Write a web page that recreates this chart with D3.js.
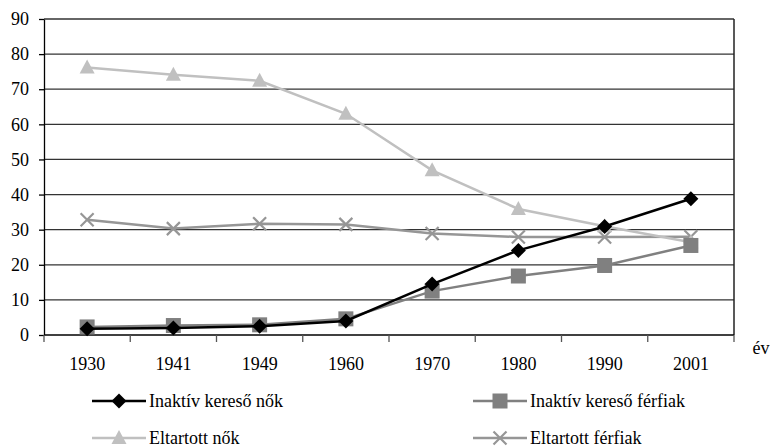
<!DOCTYPE html>
<html lang="hu">
<head>
<meta charset="utf-8">
<title>Inaktív keresők és eltartottak</title>
<script src="https://cdnjs.cloudflare.com/ajax/libs/d3/7.8.5/d3.min.js"></script>
<style>
  body { margin: 0; background: #fff; }
</style>
</head>
<body>
<script>
// data
var years = ["1930", "1941", "1949", "1960", "1970", "1980", "1990", "2001"];
var inaktivNok = [1.8, 2.0, 2.5, 4.0, 14.5, 24.1, 30.9, 38.8];
var inaktivFerfiak = [2.3, 2.7, 2.9, 4.6, 12.5, 16.8, 19.8, 25.5];
var eltartottNok = [76.2, 74.1, 72.4, 63.0, 46.9, 35.9, 31.0, 26.4];
var eltartottFerfiak = [32.8, 30.3, 31.7, 31.5, 28.9, 27.9, 27.9, 28.0];
var yTicks = [0, 10, 20, 30, 40, 50, 60, 70, 80, 90];

var series = [
  {name: "Inaktív kereső nők", values: inaktivNok, color: "#000000", marker: "diamond"},
  {name: "Inaktív kereső férfiak", values: inaktivFerfiak, color: "#808080", marker: "square"},
  {name: "Eltartott nők", values: eltartottNok, color: "#c0c0c0", marker: "triangle"},
  {name: "Eltartott férfiak", values: eltartottFerfiak, color: "#969696", marker: "cross"}
];

var W = 781, H = 448;
var pLeft = 44, pRight = 734, pTop = 19, pBottom = 335;
var FONT = "Liberation Serif";

var svg = d3.select("body").append("svg")
    .attr("width", W)
    .attr("height", H);

var x = d3.scaleBand().domain(years).range([pLeft, pRight]);
var y = d3.scaleLinear().domain([0, 90]).range([pBottom, pTop]);

// gridlines
svg.append("g")
  .selectAll("line")
  .data(yTicks.slice(1))
  .enter().append("line")
    .attr("x1", pLeft).attr("x2", pRight)
    .attr("y1", function(d) { return y(d); })
    .attr("y2", function(d) { return y(d); })
    .attr("stroke", "#333")
    .attr("stroke-width", 1.3);

// right border
svg.append("line")
    .attr("x1", pRight).attr("x2", pRight)
    .attr("y1", pTop).attr("y2", pBottom)
    .attr("stroke", "#222")
    .attr("stroke-width", 1.5);

// y axis
var yAxis = svg.append("g")
    .attr("transform", "translate(" + pLeft + ",0)")
    .call(d3.axisLeft(y).tickValues(yTicks).tickSize(5).tickPadding(10).tickSizeOuter(0));
yAxis.attr("font-family", FONT).attr("font-size", 18);
yAxis.select(".domain").attr("stroke", "#000").attr("stroke-width", 1.3);
yAxis.selectAll(".tick line").attr("stroke", "#000").attr("stroke-width", 1.3);
yAxis.selectAll("text").attr("fill", "#000");

// x axis: ticks between categories
var xAxis = svg.append("g")
    .attr("transform", "translate(0," + pBottom + ")")
    .call(d3.axisBottom(x).tickSize(0).tickPadding(22));
xAxis.attr("font-family", FONT).attr("font-size", 18);
xAxis.select(".domain").remove();
xAxis.selectAll("text").attr("fill", "#000");

svg.append("line")
    .attr("x1", pLeft).attr("x2", pRight)
    .attr("y1", pBottom).attr("y2", pBottom)
    .attr("stroke", "#000").attr("stroke-width", 1.5);

svg.append("g")
  .selectAll("line")
  .data(years.concat(["end"]))
  .enter().append("line")
    .attr("x1", function(d, i) { return pLeft + i * x.bandwidth(); })
    .attr("x2", function(d, i) { return pLeft + i * x.bandwidth(); })
    .attr("y1", pBottom).attr("y2", pBottom + 7)
    .attr("stroke", "#555").attr("stroke-width", 1.3);

svg.append("text")
    .attr("x", 761).attr("y", 354)
    .attr("text-anchor", "middle")
    .attr("font-family", FONT)
    .attr("font-size", 18)
    .text("év");

function drawMarker(g, type, color, cx, cy) {
  if (type === "diamond") {
    g.append("path")
      .attr("d", "M" + cx + "," + (cy - 7.5) + "L" + (cx + 7.5) + "," + cy + "L" + cx + "," + (cy + 7.5) + "L" + (cx - 7.5) + "," + cy + "Z")
      .attr("fill", color);
  } else if (type === "square") {
    g.append("rect")
      .attr("x", cx - 7.5).attr("y", cy - 7.5)
      .attr("width", 15).attr("height", 15)
      .attr("fill", color);
  } else if (type === "triangle") {
    g.append("path")
      .attr("d", "M" + cx + "," + (cy - 8) + "L" + (cx + 7.5) + "," + (cy + 6) + "L" + (cx - 7.5) + "," + (cy + 6) + "Z")
      .attr("fill", color);
  } else {
    g.append("path")
      .attr("d", "M" + (cx - 6.5) + "," + (cy - 6.5) + "L" + (cx + 6.5) + "," + (cy + 6.5) + "M" + (cx + 6.5) + "," + (cy - 6.5) + "L" + (cx - 6.5) + "," + (cy + 6.5))
      .attr("stroke", color).attr("stroke-width", 2.2).attr("fill", "none");
  }
}

var line = d3.line()
    .x(function(d, i) { return x(years[i]) + x.bandwidth() / 2; })
    .y(function(d) { return y(d); });

// draw back to front
var order = [3, 2, 1, 0];
order.forEach(function(k) {
  var s = series[k];
  var g = svg.append("g");
  g.append("path")
    .datum(s.values)
    .attr("d", line)
    .attr("fill", "none")
    .attr("stroke", s.color)
    .attr("stroke-width", 2.5);
  s.values.forEach(function(v, i) {
    drawMarker(g, s.marker, s.color, x(years[i]) + x.bandwidth() / 2, y(v));
  });
});

// legend
var legendPos = [[92, 401], [473, 401], [92, 438], [473, 438]];
series.forEach(function(s, i) {
  var lx = legendPos[i][0], ly = legendPos[i][1];
  var g = svg.append("g");
  g.append("line")
    .attr("x1", lx).attr("x2", lx + 54)
    .attr("y1", ly).attr("y2", ly)
    .attr("stroke", s.color).attr("stroke-width", 2.5);
  drawMarker(g, s.marker, s.color, lx + 27, ly);
  g.append("text")
    .attr("x", lx + 57).attr("y", ly + 6)
    .attr("font-family", FONT)
    .attr("font-size", 18)
    .text(s.name);
});
</script>
</body>
</html>
